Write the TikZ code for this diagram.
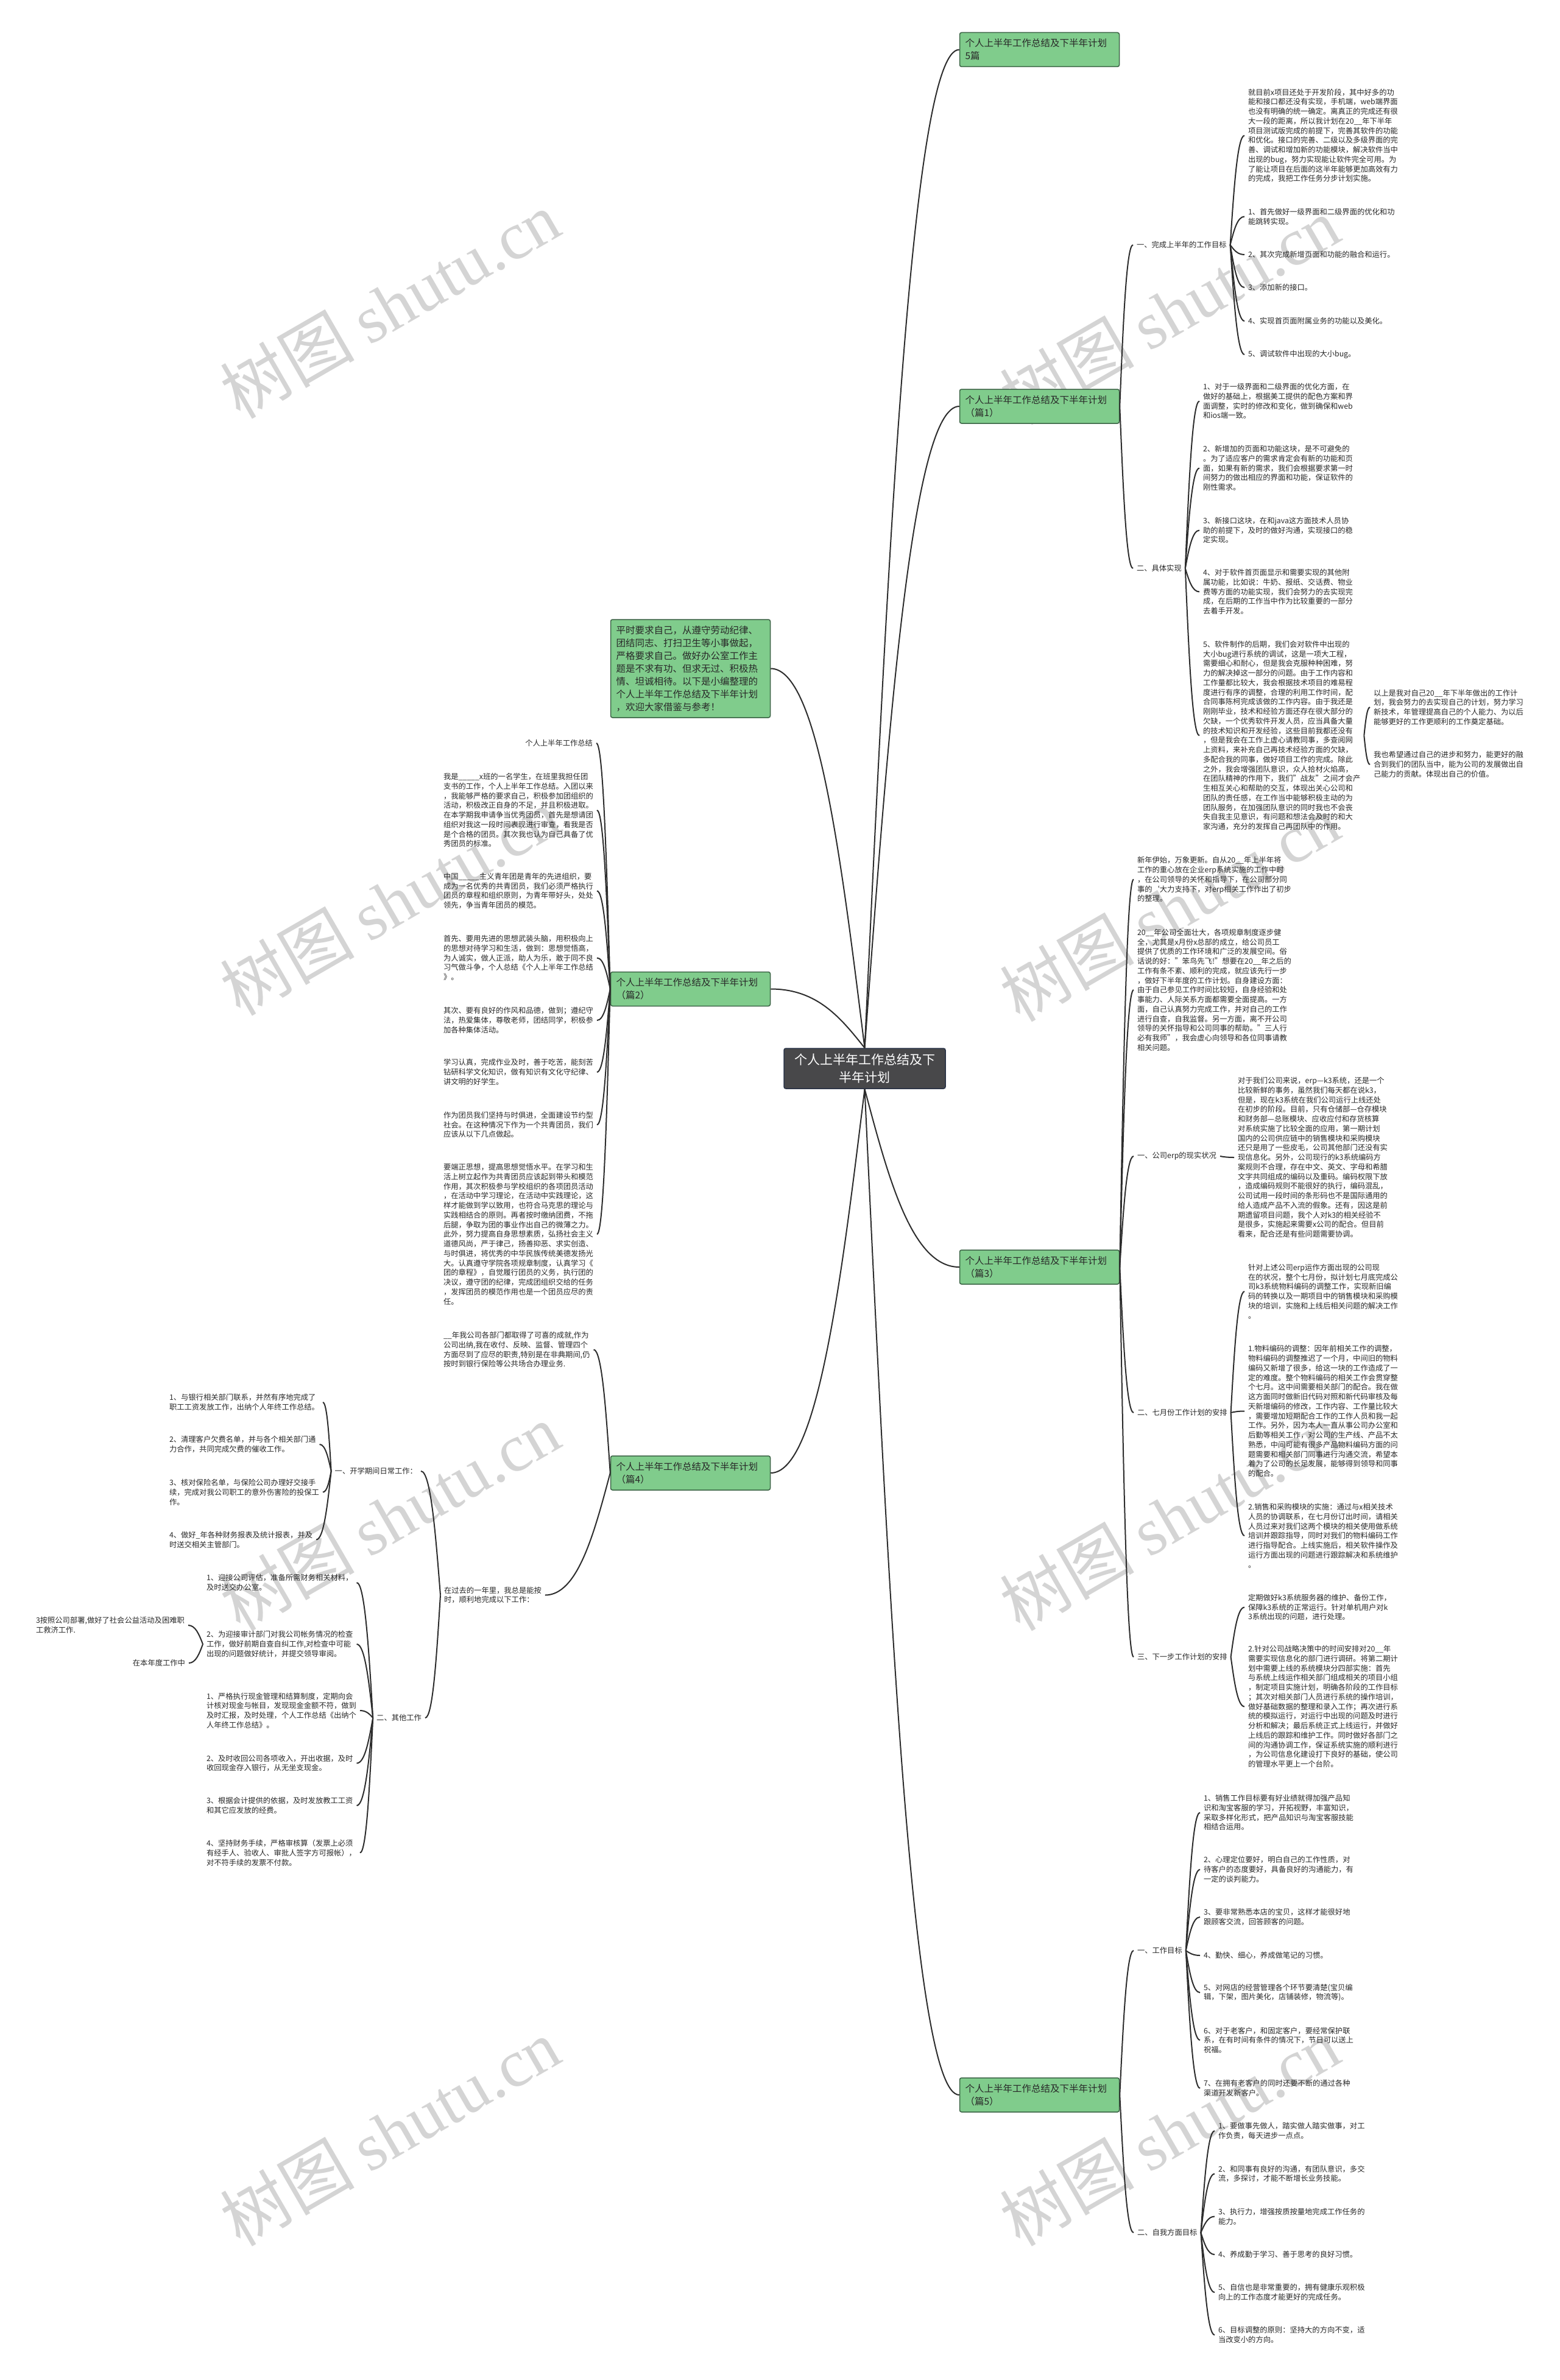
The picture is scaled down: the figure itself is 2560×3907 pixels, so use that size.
\documentclass[tikz,border=0pt]{standalone}
\usepackage{fontspec}
\setmainfont{Noto Sans CJK SC}
\newfontfamily\wmlat{Liberation Serif}
\usetikzlibrary{calc}
\definecolor{txt}{RGB}{40,40,40}
\definecolor{lnc}{RGB}{45,45,45}
\definecolor{gfill}{RGB}{128,204,140}
\definecolor{gdraw}{RGB}{60,100,70}
\definecolor{cfill}{RGB}{72,72,74}
\definecolor{cdraw}{RGB}{40,50,70}
\definecolor{wmc}{RGB}{212,212,212}
\tikzset{
 lf/.style={inner sep=0pt, outer xsep=6pt, outer ysep=0pt, align=left, text=txt, font=\fontsize{12.3}{15.75}\selectfont},
 lw/.style={lf, anchor=west},
 le/.style={lf, anchor=east},
 br/.style={draw=gdraw, fill=gfill, line width=1.5pt, rounded corners=3pt, text width=244pt, inner xsep=9pt, inner ysep=0pt, minimum height=56pt, align=left, font=\fontsize{15.5}{21}\selectfont, text=txt},
 cnode/.style={draw=cdraw, fill=cfill, line width=1.5pt, rounded corners=3pt, minimum width=265pt, minimum height=66pt, inner sep=0pt, align=center, text=white, font=\fontsize{21}{29}\selectfont},
 lnk/.style={draw=lnc, line width=2pt},
 wmk/.style={text=wmc, font=\fontsize{110}{110}\selectfont, rotate=30, inner sep=0pt},
}
\newcommand\lnkto[2]{\draw[lnk] let \p1=(#1), \p2=(#2) in (\p1) .. controls ({\x1+0.25*(\x2-\x1)},{0.5*(\y1+\y2)}) and ({0.5*(\x1+\x2)},\y2) .. (\p2);}
\begin{document}
\begin{tikzpicture}[x=1pt,y=-1pt]
\fill[white] (0,0) rectangle (2560,3907);
\path[use as bounding box] (0,0) rectangle (2560,3907);
% watermarks
\foreach \wx/\wy [count=\i] in {640/500,1920/510,640/1480,1920/1490,640/2490,1920/2490,640/3500,1920/3500}
  \node[wmk] (wm\i) at (\wx,\wy) {树图 {\wmlat shutu.cn}};
% central and branches
\node[cnode] (c) at (1419.5,1754) {个人上半年工作总结及下\\半年计划};
\node[br] (b0) at (1706.5,81.5) {个人上半年工作总结及下半年计划\\5篇};
\node[br] (b1) at (1706.5,667) {个人上半年工作总结及下半年计划\\（篇1）};
\node[br, minimum height=161pt] (intro) at (1133.5,1097.5) {平时要求自己，从遵守劳动纪律、\\团结同志、打扫卫生等小事做起，\\严格要求自己。做好办公室工作主\\题是不求有功、但求无过、积极热\\情、坦诚相待。以下是小编整理的\\个人上半年工作总结及下半年计划\\，欢迎大家借鉴与参考！};
\node[br] (b2) at (1133.5,1623.5) {个人上半年工作总结及下半年计划\\（篇2）};
\node[br] (b3) at (1706.5,2080) {个人上半年工作总结及下半年计划\\（篇3）};
\node[br] (b4) at (1133.5,2418) {个人上半年工作总结及下半年计划\\（篇4）};
\node[br] (b5) at (1706.5,3439) {个人上半年工作总结及下半年计划\\（篇5）};
\lnkto{c.north}{b0.west}
\lnkto{c.north}{b1.west}
\lnkto{c.north}{intro.east}
\lnkto{c.north}{b2.east}
\lnkto{c.south}{b3.west}
\lnkto{c.south}{b4.east}
\lnkto{c.south}{b5.west}
% ---------- 篇1
\node[lw] (a1) at (1860,402) {一、完成上半年的工作目标};
\node[lw] (a2) at (1860,933) {二、具体实现};
\node[lw] (a1p) at (2043,222.5) {就目前x项目还处于开发阶段，其中好多的功\\能和接口都还没有实现，手机端，web端界面\\也没有明确的统一确定。离真正的完成还有很\\大一段的距离，所以我计划在20\_\_年下半年\\项目测试版完成的前提下，完善其软件的功能\\和优化。接口的完善、二级以及多级界面的完\\善、调试和增加新的功能模块，解决软件当中\\出现的bug，努力实现能让软件完全可用。为\\了能让项目在后面的这半年能够更加高效有力\\的完成，我把工作任务分步计划实施。};
\node[lw] (a1i1) at (2043,355.5) {1、首先做好一级界面和二级界面的优化和功\\能跳转实现。};
\node[lw] (a1i2) at (2043,418) {2、其次完成新增页面和功能的融合和运行。};
\node[lw] (a1i3) at (2043,472) {3、添加新的接口。};
\node[lw] (a1i4) at (2043,527) {4、实现首页面附属业务的功能以及美化。};
\node[lw] (a1i5) at (2043,582) {5、调试软件中出现的大小bug。};
\node[lw] (a2i1) at (1969,658.5) {1、对于一级界面和二级界面的优化方面，在\\做好的基础上，根据美工提供的配色方案和界\\面调整，实时的修改和变化，做到确保和web\\和ios端一致。};
\node[lw] (a2i2) at (1969,768.5) {2、新增加的页面和功能这块，是不可避免的\\。为了适应客户的需求肯定会有新的功能和页\\面，如果有新的需求，我们会根据要求第一时\\间努力的做出相应的界面和功能，保证软件的\\刚性需求。};
\node[lw] (a2i3) at (1969,870.5) {3、新接口这块，在和java这方面技术人员协\\助的前提下，及时的做好沟通，实现接口的稳\\定实现。};
\node[lw] (a2i4) at (1969,971.5) {4、对于软件首页面显示和需要实现的其他附\\属功能，比如说：牛奶、报纸、交话费、物业\\费等方面的功能实现，我们会努力的去实现完\\成，在后期的工作当中作为比较重要的一部分\\去着手开发。};
\node[lw] (a2i5) at (1969,1207.5) {5、软件制作的后期，我们会对软件中出现的\\大小bug进行系统的调试，这是一项大工程，\\需要细心和耐心，但是我会克服种种困难，努\\力的解决掉这一部分的问题。由于工作内容和\\工作量都比较大，我会根据技术项目的难易程\\度进行有序的调整，合理的利用工作时间，配\\合同事陈柯完成该做的工作内容。由于我还是\\刚刚毕业，技术和经验方面还存在很大部分的\\欠缺，一个优秀软件开发人员，应当具备大量\\的技术知识和开发经验，这些目前我都还没有\\，但是我会在工作上虚心请教同事，多查阅网\\上资料，来补充自己再技术经验方面的欠缺，\\多配合我的同事，做好项目工作的完成。除此\\之外，我会增强团队意识，众人拾材火焰高，\\在团队精神的作用下，我们"战友"之间才会产\\生相互关心和帮助的交互，体现出关心公司和\\团队的责任感，在工作当中能够积极主动的为\\团队服务，在加强团队意识的同时我也不会丧\\失自我主见意识，有问题和想法会及时的和大\\家沟通，充分的发挥自己再团队中的作用。};
\node[lw] (n1) at (2249,1161) {以上是我对自己20\_\_年下半年做出的工作计\\划，我会努力的去实现自己的计划，努力学习\\新技术，年管理提高自己的个人能力、为以后\\能够更好的工作更顺利的工作奠定基础。};
\node[lw] (n2) at (2249,1255) {我也希望通过自己的进步和努力，能更好的融\\合到我们的团队当中，能为公司的发展做出自\\己能力的贡献。体现出自己的价值。};
\lnkto{b1.east}{a1.west}
\lnkto{b1.east}{a2.west}
\foreach \k in {a1p,a1i1,a1i2,a1i3,a1i4,a1i5} {\lnkto{a1.east}{\k.west}}
\foreach \k in {a2i1,a2i2,a2i3,a2i4,a2i5} {\lnkto{a2.east}{\k.west}}
\lnkto{a2i5.east}{n1.west}
\lnkto{a2i5.east}{n2.west}
% ---------- 篇3
\node[lw] (p31) at (1861,1443.5) {新年伊始，万象更新。自从20\_\_年上半年将\\工作的重心放在企业erp系统实施的工作中时\\，在公司领导的关怀和指导下，在公司部分同\\事的{\char"60}大力支持下，对erp相关工作作出了初步\\的整理。};
\node[lw] (p32) at (1861,1625) {20\_\_年公司全面壮大，各项规章制度逐步健\\全，尤其是x月份x总部的成立，给公司员工\\提供了优质的工作环境和广泛的发展空间。俗\\话说的好："笨鸟先飞!"想要在20\_\_年之后的\\工作有条不紊、顺利的完成，就应该先行一步\\，做好下半年度的工作计划。自身建设方面：\\由于自己参见工作时间比较短，自身经验和处\\事能力、人际关系方面都需要全面提高。一方\\面，自己认真努力完成工作，并对自己的工作\\进行自查，自我监督。另一方面，离不开公司\\领导的关怀指导和公司同事的帮助。"三人行\\必有我师"，我会虚心向领导和各位同事请教\\相关问题。};
\node[lw] (l3a) at (1861,1898) {一、公司erp的现实状况};
\node[lw] (p33) at (2026,1900) {对于我们公司来说，erp—k3系统，还是一个\\比较新鲜的事务，虽然我们每天都在说k3，\\但是，现在k3系统在我们公司运行上线还处\\在初步的阶段。目前，只有仓储部—仓存模块\\和财务部—总账模块、应收应付和存货核算\\对系统实施了比较全面的应用，第一期计划\\国内的公司供应链中的销售模块和采购模块\\还只是用了一些皮毛，公司其他部门还没有实\\现信息化。另外，公司现行的k3系统编码方\\案规则不合理，存在中文、英文、字母和希腊\\文字共同组成的编码以及重码。编码权限下放\\，造成编码规则不能很好的执行，编码混乱，\\公司试用一段时间的条形码也不是国际通用的\\给人造成产品不入流的假象。还有，因这是前\\期遗留项目问题，我个人对k3的相关经验不\\是很多，实施起来需要x公司的配合。但目前\\看来，配合还是有些问题需要协调。};
\node[lw] (l3b) at (1861,2319) {二、七月份工作计划的安排};
\node[lw] (c31) at (2043,2120) {针对上述公司erp运作方面出现的公司现\\在的状况，整个七月份，拟计划七月底完成公\\司k3系统物料编码的调整工作，实现新旧编\\码的转换以及一期项目中的销售模块和采购模\\块的培训，实施和上线后相关问题的解决工作\\。};
\node[lw] (c32) at (2043,2316.5) {1.物料编码的调整：因年前相关工作的调整，\\物料编码的调整推迟了一个月，中间旧的物料\\编码又新增了很多，给这一块的工作造成了一\\定的难度。整个物料编码的相关工作会贯穿整\\个七月。这中间需要相关部门的配合。我在做\\这方面同时做新旧代码对照和新代码审核及每\\天新增编码的修改，工作内容、工作量比较大\\，需要增加短期配合工作的工作人员和我一起\\工作。另外，因为本人一直从事公司办公室和\\后勤等相关工作，对公司的生产线、产品不太\\熟悉，中间可能有很多产品物料编码方面的问\\题需要和相关部门同事进行沟通交流，希望本\\着为了公司的长足发展，能够得到领导和同事\\的配合。};
\node[lw] (c33) at (2043,2521) {2.销售和采购模块的实施：通过与x相关技术\\人员的协调联系，在七月份订出时间，请相关\\人员过来对我们这两个模块的相关使用做系统\\培训并跟踪指导，同时对我们的物料编码工作\\进行指导配合。上线实施后，相关软件操作及\\运行方面出现的问题进行跟踪解决和系统维护\\。};
\node[lw] (l3c) at (1861,2720) {三、下一步工作计划的安排};
\node[lw] (d31) at (2043,2638.5) {定期做好k3系统服务器的维护、备份工作，\\保障k3系统的正常运行。针对单机用户对k\\3系统出现的问题，进行处理。};
\node[lw] (d32) at (2043,2801.5) {2.针对公司战略决策中的时间安排对20\_\_年\\需要实现信息化的部门进行调研。将第二期计\\划中需要上线的系统模块分四部实施：首先\\与系统上线运作相关部门组成相关的项目小组\\，制定项目实施计划，明确各阶段的工作目标\\；其次对相关部门人员进行系统的操作培训，\\做好基础数据的整理和录入工作；再次进行系\\统的模拟运行，对运行中出现的问题及时进行\\分析和解决；最后系统正式上线运行，并做好\\上线后的跟踪和维护工作。同时做好各部门之\\间的沟通协调工作，保证系统实施的顺利进行\\，为公司信息化建设打下良好的基础，使公司\\的管理水平更上一个台阶。};
\foreach \k in {p31,p32,l3a,l3b,l3c} {\lnkto{b3.east}{\k.west}}
\lnkto{l3a.east}{p33.west}
\foreach \k in {c31,c32,c33} {\lnkto{l3b.east}{\k.west}}
\foreach \k in {d31,d32} {\lnkto{l3c.east}{\k.west}}
% ---------- 篇5
\node[lw] (l5a) at (1861,3202) {一、工作目标};
\node[lw] (l5b) at (1861,3665) {二、自我方面目标};
\node[lw] (e1) at (1970,2975.5) {1、销售工作目标要有好业绩就得加强产品知\\识和淘宝客服的学习，开拓视野，丰富知识，\\采取多样化形式，把产品知识与淘宝客服技能\\相结合运用。};
\node[lw] (e2) at (1970,3069) {2、心理定位要好，明白自己的工作性质，对\\待客户的态度要好，具备良好的沟通能力，有\\一定的谈判能力。};
\node[lw] (e3) at (1970,3147) {3、要非常熟悉本店的宝贝，这样才能很好地\\跟顾客交流，回答顾客的问题。};
\node[lw] (e4) at (1970,3210) {4、勤快、细心，养成做笔记的习惯。};
\node[lw] (e5) at (1970,3271) {5、对网店的经营管理各个环节要清楚(宝贝编\\辑，下架，图片美化，店铺装修，物流等)。};
\node[lw] (e6) at (1970,3349) {6、对于老客户，和固定客户，要经常保护联\\系，在有时间有条件的情况下，节日可以送上\\祝福。};
\node[lw] (e7) at (1970,3428) {7、在拥有老客户的同时还要不断的通过各种\\渠道开发新客户。};
\node[lw] (f1) at (1994,3498) {1、要做事先做人，踏实做人踏实做事，对工\\作负责，每天进步一点点。};
\node[lw] (f2) at (1994,3568.5) {2、和同事有良好的沟通，有团队意识，多交\\流，多探讨，才能不断增长业务技能。};
\node[lw] (f3) at (1994,3638.5) {3、执行力，增强按质按量地完成工作任务的\\能力。};
\node[lw] (f4) at (1994,3701) {4、养成勤于学习、善于思考的良好习惯。};
\node[lw] (f5) at (1994,3763) {5、自信也是非常重要的，拥有健康乐观积极\\向上的工作态度才能更好的完成任务。};
\node[lw] (f6) at (1994,3833) {6、目标调整的原则：坚持大的方向不变，适\\当改变小的方向。};
\lnkto{b5.east}{l5a.west}
\lnkto{b5.east}{l5b.west}
\foreach \k in {e1,e2,e3,e4,e5,e6,e7} {\lnkto{l5a.east}{\k.west}}
\foreach \k in {f1,f2,f3,f4,f5,f6} {\lnkto{l5b.east}{\k.west}}
% ---------- 篇2
\node[le] (g0) at (979,1220) {个人上半年工作总结};
\node[lw] (g1) at (722,1330) {我是\_\_\_\_\_x班的一名学生，在班里我担任团\\支书的工作，个人上半年工作总结。入团以来\\，我能够严格的要求自己，积极参加团组织的\\活动，积极改正自身的不足，并且积极进取。\\在本学期我申请争当优秀团员，首先是想请团\\组织对我这一段时间表现进行审查，看我是否\\是个合格的团员。其次我也认为自己具备了优\\秀团员的标准。};
\node[lw] (g2) at (722,1462.5) {中国\_\_\_\_\_主义青年团是青年的先进组织，要\\成为一名优秀的共青团员，我们必须严格执行\\团员的章程和组织原则，为青年带好头，处处\\领先，争当青年团员的模范。};
\node[lw] (g3) at (722,1572.5) {首先、要用先进的思想武装头脑，用积极向上\\的思想对待学习和生活，做到：思想觉悟高，\\为人诚实，做人正派，助人为乐，敢于同不良\\习气做斗争，个人总结《个人上半年工作总结\\》。};
\node[lw] (g4) at (722,1675) {其次、要有良好的作风和品德，做到；遵纪守\\法，热爱集体，尊敬老师，团结同学，积极参\\加各种集体活动。};
\node[lw] (g5) at (722,1760) {学习认真，完成作业及时，善于吃苦，能刻苦\\钻研科学文化知识，做有知识有文化守纪律、\\讲文明的好学生。};
\node[lw] (g6) at (722,1846.5) {作为团员我们坚持与时俱进，全面建设节约型\\社会。在这种情况下作为一个共青团员，我们\\应该从以下几点做起。};
\node[lw] (g7) at (722,2026) {要端正思想，提高思想觉悟水平。在学习和生\\活上树立起作为共青团员应该起到带头和模范\\作用，其次积极参与学校组织的各项团员活动\\，在活动中学习理论，在活动中实践理论，这\\样才能做到学以致用，也符合马克思的理论与\\实践相结合的原则。再者按时缴纳团费，不拖\\后腿，争取为团的事业作出自己的微薄之力。\\此外，努力提高自身思想素质，弘扬社会主义\\道德风尚，严于律己，扬善抑恶、求实创造、\\与时俱进，将优秀的中华民族传统美德发扬光\\大。认真遵守学院各项规章制度，认真学习《\\团的章程》，自觉履行团员的义务，执行团的\\决议，遵守团的纪律，完成团组织交给的任务\\，发挥团员的模范作用也是一个团员应尽的责\\任。};
\foreach \k in {g0,g1,g2,g3,g4,g5,g6,g7} {\lnkto{b2.west}{\k.east}}
% ---------- 篇4
\node[lw] (h1) at (722,2215.5) {\_\_年我公司各部门都取得了可喜的成就,作为\\公司出纳,我在收付、反映、监督、管理四个\\方面尽到了应尽的职责,特别是在非典期间,仍\\按时到银行保险等公共场合办理业务.};
\node[lw] (h2) at (723,2618.5) {在过去的一年里，我总是能按\\时，顺利地完成以下工作：};
\node[le] (k1) at (691,2415) {一、开学期间日常工作：};
\node[le] (k2) at (698,2820) {二、其他工作};
\node[lw] (k1a) at (272,2302) {1、与银行相关部门联系，并然有序地完成了\\职工工资发放工作，出纳个人年终工作总结。};
\node[lw] (k1b) at (272,2371) {2、清理客户欠费名单，并与各个相关部门通\\力合作，共同完成欠费的催收工作。};
\node[lw] (k1c) at (272,2449.5) {3、核对保险名单，与保险公司办理好交接手\\续，完成对我公司职工的意外伤害险的投保工\\作。};
\node[lw] (k1d) at (272,2527.5) {4、做好\_年各种财务报表及统计报表，并及\\时送交相关主管部门。};
\node[lw] (k2a) at (333,2598) {1、迎接公司评估，准备所需财务相关材料，\\及时送交办公室。};
\node[lw] (k2b) at (333,2699) {2、为迎接审计部门对我公司帐务情况的检查\\工作，做好前期自查自纠工作,对检查中可能\\出现的问题做好统计，并提交领导审阅。};
\node[lw] (k2c) at (333,2808) {1、严格执行现金管理和结算制度，定期向会\\计核对现金与帐目，发现现金金额不符，做到\\及时汇报，及时处理，个人工作总结《出纳个\\人年终工作总结》。};
\node[lw] (k2d) at (333,2894.5) {2、及时收回公司各项收入，开出收据，及时\\收回现金存入银行，从无坐支现金。};
\node[lw] (k2e) at (333,2964) {3、根据会计提供的依据，及时发放教工工资\\和其它应发放的经费。};
\node[lw] (k2f) at (333,3041.5) {4、坚持财务手续，严格审核算（发票上必须\\有经手人、验收人、审批人签字方可报帐），\\对不符手续的发票不付款。};
\node[lw] (m1) at (53,2668) {3按照公司部署,做好了社会公益活动及困难职\\工救济工作.};
\node[le] (m2) at (310,2730) {在本年度工作中};
\lnkto{b4.west}{h1.east}
\lnkto{b4.west}{h2.east}
\lnkto{h2.west}{k1.east}
\lnkto{h2.west}{k2.east}
\foreach \k in {k1a,k1b,k1c,k1d} {\lnkto{k1.west}{\k.east}}
\foreach \k in {k2a,k2b,k2c,k2d,k2e,k2f} {\lnkto{k2.west}{\k.east}}
\lnkto{k2b.west}{m1.east}
\lnkto{k2b.west}{m2.east}
\end{tikzpicture}
\end{document}
